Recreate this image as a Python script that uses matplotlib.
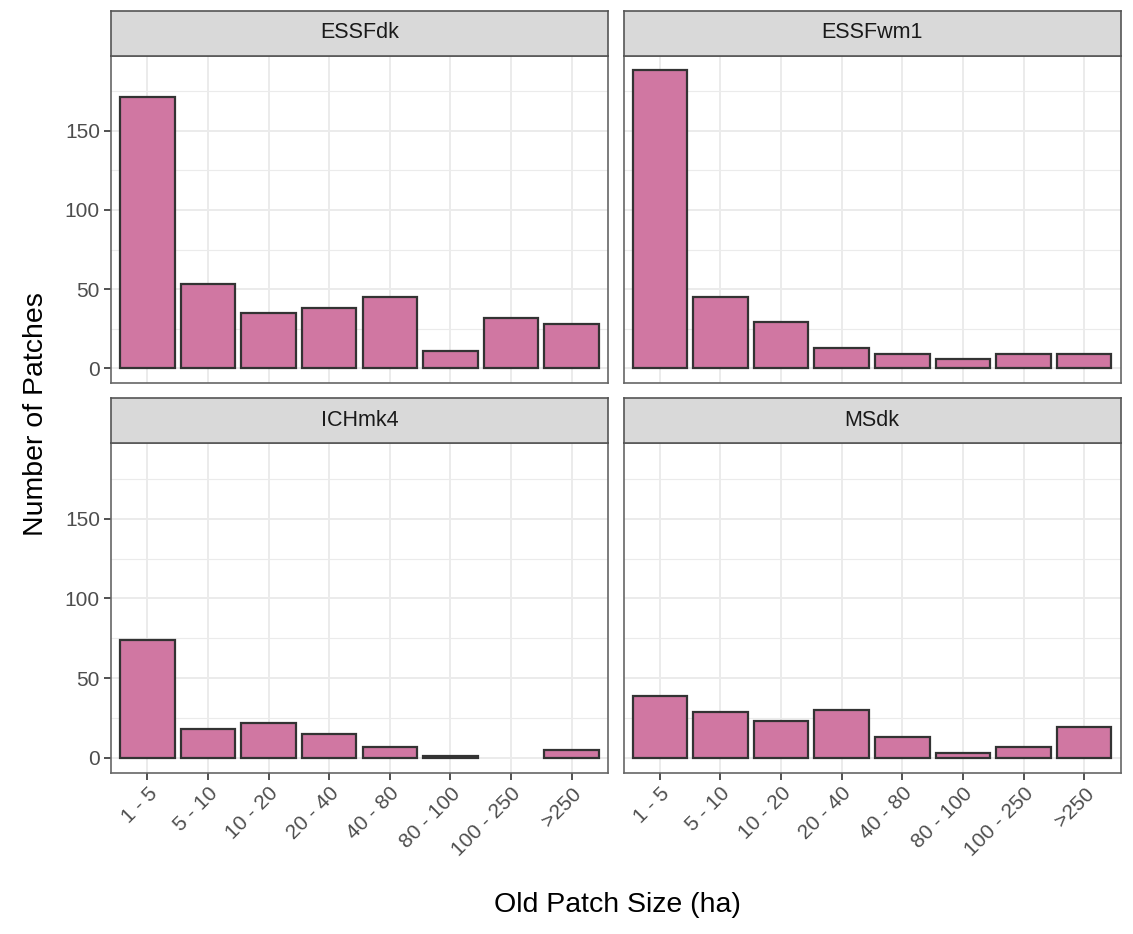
import matplotlib
matplotlib.use("Agg")
import matplotlib.pyplot as plt
import numpy as np

plt.rcParams['font.family'] = ['Liberation Sans', 'DejaVu Sans']

categories = ["1 - 5", "5 - 10", "10 - 20", "20 - 40", "40 - 80", "80 - 100", "100 - 250", ">250"]
panels = ["ESSFdk", "ESSFwm1", "ICHmk4", "MSdk"]
essfdk = [171, 53, 35, 38, 45, 11, 32, 28]
essfwm1 = [188, 45, 29, 13, 9, 6, 9, 9]
ichmk4 = [74, 18, 22, 15, 7, 1, 0, 5]
msdk = [39, 29, 23, 30, 13, 3, 7, 19]
values = [essfdk, essfwm1, ichmk4, msdk]

W, H = 1133, 934
fig = plt.figure(figsize=(W / 100, H / 100), dpi=100)

fill = "#D077A2"
edge = "#333333"
grid_c = "#EBEBEB"
border_c = "#333333"
strip_bg = "#D9D9D9"
tick_c = "#4D4D4D"

xl = [111, 623.5]
pw = 497
yt = [55.5, 443.3]
yb = [383.3, 772.7]
strip_h = 45

ymax = max(max(v) for v in values)
ylim = (-0.05 * ymax, 1.05 * ymax)

x = np.arange(len(categories))
for i, (name, vals) in enumerate(zip(panels, values)):
    r, c = divmod(i, 2)
    left = xl[c] / W
    bottom = 1 - yb[r] / H
    height = (yb[r] - yt[r]) / H
    ax = fig.add_axes([left, bottom, pw / W, height])
    ax.set_xlim(-0.6, len(categories) - 0.4)
    ax.set_ylim(*ylim)
    ax.set_yticks([0, 50, 100, 150])
    ax.set_yticks([25, 75, 125, 175], minor=True)
    ax.set_xticks(x)
    ax.grid(True, which='major', color=grid_c, linewidth=1.4, zorder=0)
    ax.grid(True, which='minor', axis='y', color=grid_c, linewidth=0.8, zorder=0)
    ax.set_axisbelow(True)
    v = np.array(vals)
    keep = v > 0
    ax.bar(x[keep], v[keep], width=0.9, color=fill, edgecolor=edge, linewidth=1.6, zorder=2)
    for s in ax.spines.values():
        s.set_color("#666666")
        s.set_linewidth(1.2)
    ax.tick_params(axis='both', which='major', color=border_c, length=5, width=1.2,
                   labelcolor=tick_c, labelsize=15, pad=3)
    ax.tick_params(axis='both', which='minor', length=0)
    if r == 0:
        ax.tick_params(axis='x', labelbottom=False, length=0)
    else:
        ax.set_xticklabels(categories, rotation=45, ha='right', va='top', rotation_mode='anchor')
    if c == 1:
        ax.tick_params(axis='y', labelleft=False, length=0)
    # strip
    sax = fig.add_axes([left, 1 - yt[r] / H, pw / W, strip_h / H])
    sax.set_facecolor(strip_bg)
    sax.set_xticks([])
    sax.set_yticks([])
    for s in sax.spines.values():
        s.set_color("#555555")
        s.set_linewidth(1.2)
    sax.text(0.5, 0.5, name, ha='center', va='center', fontsize=15.5, color="#1A1A1A",
             transform=sax.transAxes)

fig.text(617 / W, 1 - 905 / H, "Old Patch Size (ha)", ha='center', va='center', fontsize=20.5, color='black')
fig.text(36 / W, 1 - 414 / H, "Number of Patches", ha='center', va='center', rotation=90, fontsize=20.5, color='black')

fig.savefig("out.png", dpi=100, facecolor='white')
